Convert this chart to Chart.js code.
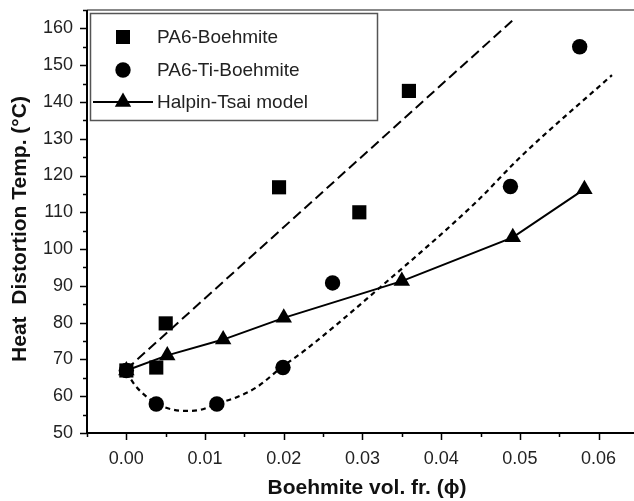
<!DOCTYPE html>
<html>
<head>
<meta charset="utf-8">
<script src="https://cdn.jsdelivr.net/npm/chart.js@4.4.0/dist/chart.umd.min.js"></script>
<style>
  html, body { margin: 0; padding: 0; background: #fff; overflow: hidden; }
  #wrap { width: 634px; height: 501px; }
</style>
</head>
<body>
<div id="wrap"><canvas id="chart" width="634" height="501"></canvas></div>
<script>
// measured data
var boehmiteX = [0, 0.0038, 0.0050, 0.0194, 0.0296, 0.0359];
var boehmiteY = [67, 67.8, 79.8, 116.8, 110, 143];

var tiBoehmiteX = [0, 0.0038, 0.0115, 0.0199, 0.0262, 0.0488, 0.0576];
var tiBoehmiteY = [67, 57.9, 57.9, 67.8, 90.8, 117, 155];

var halpinX = [0, 0.0052, 0.0123, 0.0200, 0.0350, 0.0491, 0.0582];
var halpinY = [67, 71.1, 75.4, 81.3, 91.3, 103.2, 116.3];

// long dashed fit line
var fitX = [0, 0.0494];
var fitY = [67.3, 162.8];

// short dashed curve
var curveX = [0, 0.0011, 0.0026, 0.0039, 0.0058, 0.0077, 0.0096, 0.0114, 0.0141, 0.0166, 0.0198, 0.0227, 0.0323, 0.0446, 0.0500, 0.0617];
var curveY = [66.6, 63.0, 59.8, 57.9, 56.4, 56.0, 56.4, 57.9, 59.8, 62.5, 68.0, 72.5, 89.7, 113.1, 124.9, 147.3];

var xTicks = [0, 0.01, 0.02, 0.03, 0.04, 0.05, 0.06];
var yTicks = [50, 60, 70, 80, 90, 100, 110, 120, 130, 140, 150, 160];

var legendNames = ['PA6-Boehmite', 'PA6-Ti-Boehmite', 'Halpin-Tsai model'];

function pts(xs, ys) {
  return xs.map(function(x, i) { return {x: x, y: ys[i]}; });
}

var FONT = '"Liberation Sans", Arial, sans-serif';

var framePlugin = {
  id: 'frame',
  // stretch plot area to the right edge of the canvas
  afterLayout: function(chart) {
    var xs = chart.scales.x;
    chart.chartArea.right = chart.width;
    chart.chartArea.width = chart.width - chart.chartArea.left;
    xs.right = chart.width;
    xs.width = xs.right - xs.left;
    xs.configure();
  },
  afterDatasetsDraw: function(chart) {
    var ctx = chart.ctx;
    var a = chart.chartArea;
    var xs = chart.scales.x, ys = chart.scales.y;
    ctx.save();
    // top frame line
    ctx.strokeStyle = '#888';
    ctx.lineWidth = 2;
    ctx.beginPath();
    ctx.moveTo(a.left, a.top);
    ctx.lineTo(chart.width, a.top);
    ctx.stroke();
    // axes
    ctx.strokeStyle = '#000';
    ctx.lineWidth = 2;
    ctx.beginPath();
    ctx.moveTo(a.left, a.top);
    ctx.lineTo(a.left, a.bottom);
    ctx.lineTo(chart.width, a.bottom);
    ctx.stroke();
    // ticks
    ctx.lineWidth = 1.5;
    ctx.beginPath();
    for (var v = -0.005; v <= 0.0646; v += 0.005) {
      var px = Math.round(xs.getPixelForValue(v)) + 0.5;
      var major = Math.abs(Math.round(v * 100) - v * 100) < 1e-6;
      ctx.moveTo(px, a.bottom);
      ctx.lineTo(px, a.bottom + (major ? 7 : 4));
    }
    for (var w = 50; w <= 165; w += 5) {
      var py = Math.round(ys.getPixelForValue(w)) + 0.5;
      ctx.moveTo(a.left, py);
      ctx.lineTo(a.left - (w % 10 === 0 ? 7 : 4), py);
    }
    ctx.stroke();

    // axis titles
    ctx.fillStyle = '#111';
    ctx.font = 'bold 21px ' + FONT;
    ctx.textAlign = 'center';
    ctx.textBaseline = 'middle';
    ctx.fillText('Boehmite vol. fr. (\u03D5)', 367, 488);
    ctx.translate(20, 229);
    ctx.rotate(-Math.PI / 2);
    ctx.fillText('Heat  Distortion Temp. (\u00B0C)', 0, 0);
    ctx.restore();

    // legend box
    ctx.save();
    ctx.fillStyle = '#fff';
    ctx.fillRect(90, 13, 287, 107);
    ctx.strokeStyle = '#555';
    ctx.lineWidth = 1.5;
    ctx.strokeRect(90.5, 13.5, 287, 107);
    ctx.fillStyle = '#000';
    ctx.strokeStyle = '#000';
    var rows = [37, 70, 102];
    // square
    ctx.fillRect(123 - 7, rows[0] - 7, 14, 14);
    // circle
    ctx.beginPath();
    ctx.arc(123, rows[1], 7.7, 0, Math.PI * 2);
    ctx.fill();
    // line + triangle
    ctx.lineWidth = 2;
    ctx.beginPath();
    ctx.moveTo(93, rows[2]);
    ctx.lineTo(153, rows[2]);
    ctx.stroke();
    ctx.beginPath();
    ctx.moveTo(123, rows[2] - 9.5);
    ctx.lineTo(123 + 8.2, rows[2] + 4.75);
    ctx.lineTo(123 - 8.2, rows[2] + 4.75);
    ctx.closePath();
    ctx.fill();
    ctx.fillStyle = '#222';
    ctx.font = '19px ' + FONT;
    ctx.textAlign = 'left';
    ctx.textBaseline = 'middle';
    for (var i = 0; i < legendNames.length; i++) {
      ctx.fillText(legendNames[i], 157, rows[i] + 1);
    }
    ctx.restore();
  }
};

var ctx = document.getElementById('chart').getContext('2d');
var chart = new Chart(ctx, {
  type: 'scatter',
  data: {
    datasets: [
      {
        label: 'fit',
        data: pts(fitX, fitY),
        showLine: true,
        borderColor: '#000',
        borderWidth: 2,
        borderDash: [10, 5],
        pointRadius: 0
      },
      {
        label: 'curve',
        data: pts(curveX, curveY),
        showLine: true,
        borderColor: '#000',
        borderWidth: 2.2,
        borderDash: [5, 4],
        cubicInterpolationMode: 'monotone',
        pointRadius: 0
      },
      {
        label: legendNames[2],
        data: pts(halpinX, halpinY),
        showLine: true,
        borderColor: '#000',
        backgroundColor: '#000',
        borderWidth: 2,
        pointStyle: 'triangle',
        pointRadius: 9.5,
        pointBorderWidth: 0
      },
      {
        label: legendNames[0],
        data: pts(boehmiteX, boehmiteY),
        backgroundColor: '#000',
        borderColor: '#000',
        pointStyle: 'rect',
        pointRadius: 10,
        pointBorderWidth: 0
      },
      {
        label: legendNames[1],
        data: pts(tiBoehmiteX, tiBoehmiteY),
        backgroundColor: '#000',
        borderColor: '#000',
        pointStyle: 'circle',
        pointRadius: 7.7,
        pointBorderWidth: 0
      }
    ]
  },
  options: {
    responsive: false,
    animation: false,
    layout: { padding: { top: 8, right: 0, left: 0, bottom: 0 } },
    plugins: {
      legend: { display: false },
      tooltip: { enabled: false }
    },
    scales: {
      x: {
        type: 'linear',
        min: -0.005,
        max: 0.0645,
        afterBuildTicks: function(scale) {
          scale.ticks = xTicks.map(function(v) { return {value: v}; });
        },
        afterFit: function(scale) {
          scale.height = 68;
          scale.paddingLeft = 0;
          scale.paddingRight = 0;
        },
        grid: { display: false, drawTicks: false },
        border: { display: false },
        ticks: {
          color: '#222',
          padding: 15,
          maxRotation: 0,
          font: { family: FONT, size: 18 },
          callback: function(v) { return v.toFixed(2); }
        }
      },
      y: {
        min: 50,
        max: 165,
        afterBuildTicks: function(scale) {
          scale.ticks = yTicks.map(function(v) { return {value: v}; });
        },
        afterFit: function(scale) {
          scale.width = 87;
          scale.paddingTop = 0;
          scale.paddingBottom = 0;
        },
        grid: { display: false, drawTicks: false },
        border: { display: false },
        ticks: {
          color: '#222',
          padding: 14,
          font: { family: FONT, size: 18 }
        }
      }
    }
  },
  plugins: [framePlugin]
});
</script>
</body>
</html>
